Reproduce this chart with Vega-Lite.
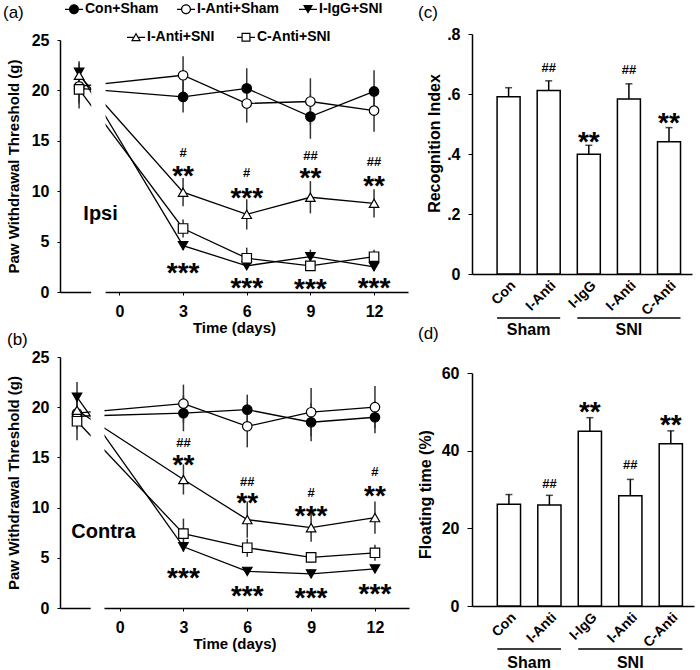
{
"$schema": "https://vega.github.io/schema/vega-lite/v6.json",
"padding": {"left": 3, "top": 2, "right": 2, "bottom": 2},
"config": {
  "font": "Liberation Sans",
  "view": {"stroke": null},
  "axis": {"grid": false, "domainColor": "black", "domainWidth": 1.5, "tickColor": "black", "tickWidth": 1, "tickSize": 3, "labelColor": "black", "labelFontWeight": "bold", "labelFontSize": 16, "titleColor": "black", "titleFontWeight": "bold", "titleFontSize": 15},
  "legend": {"title": null, "orient": "none", "symbolSize": 100, "labelFontSize": 14, "labelFontWeight": "bold", "labelColor": "black", "labelOffset": 4, "padding": 0},
  "title": {"fontSize": 17, "fontWeight": "normal", "anchor": "start", "frame": "group", "color": "black"},
  "text": {"color": "black"}
},
"datasets": {
  "pwt": [
    {"panel": "Ipsi", "series": "Con+Sham", "day": -1.9, "mean": 20.2, "sem": 1.5},
    {"panel": "Ipsi", "series": "Con+Sham", "day": 3, "mean": 19.35, "sem": 1.55},
    {"panel": "Ipsi", "series": "Con+Sham", "day": 6, "mean": 20.2, "sem": 2.0},
    {"panel": "Ipsi", "series": "Con+Sham", "day": 9, "mean": 17.4, "sem": 2.2},
    {"panel": "Ipsi", "series": "Con+Sham", "day": 12, "mean": 19.9, "sem": 2.1},
    {"panel": "Ipsi", "series": "I-Anti+Sham", "day": -1.9, "mean": 20.4, "sem": 1.5},
    {"panel": "Ipsi", "series": "I-Anti+Sham", "day": 3, "mean": 21.5, "sem": 1.9},
    {"panel": "Ipsi", "series": "I-Anti+Sham", "day": 6, "mean": 18.7, "sem": 1.9},
    {"panel": "Ipsi", "series": "I-Anti+Sham", "day": 9, "mean": 18.9, "sem": 2.3},
    {"panel": "Ipsi", "series": "I-Anti+Sham", "day": 12, "mean": 18.0, "sem": 2.1},
    {"panel": "Ipsi", "series": "I-IgG+SNI", "day": -1.9, "mean": 21.8, "sem": 1.1},
    {"panel": "Ipsi", "series": "I-IgG+SNI", "day": 3, "mean": 4.6, "sem": 0.4},
    {"panel": "Ipsi", "series": "I-IgG+SNI", "day": 6, "mean": 2.6, "sem": 0.3},
    {"panel": "Ipsi", "series": "I-IgG+SNI", "day": 9, "mean": 3.5, "sem": 0.7},
    {"panel": "Ipsi", "series": "I-IgG+SNI", "day": 12, "mean": 2.5, "sem": 0.4},
    {"panel": "Ipsi", "series": "I-Anti+SNI", "day": -1.9, "mean": 21.5, "sem": 1.2},
    {"panel": "Ipsi", "series": "I-Anti+SNI", "day": 3, "mean": 9.9, "sem": 1.4},
    {"panel": "Ipsi", "series": "I-Anti+SNI", "day": 6, "mean": 7.7, "sem": 1.5},
    {"panel": "Ipsi", "series": "I-Anti+SNI", "day": 9, "mean": 9.4, "sem": 1.6},
    {"panel": "Ipsi", "series": "I-Anti+SNI", "day": 12, "mean": 8.8, "sem": 1.4},
    {"panel": "Ipsi", "series": "C-Anti+SNI", "day": -1.9, "mean": 20.1, "sem": 1.9},
    {"panel": "Ipsi", "series": "C-Anti+SNI", "day": 3, "mean": 6.3, "sem": 0.9},
    {"panel": "Ipsi", "series": "C-Anti+SNI", "day": 6, "mean": 3.35, "sem": 1.05},
    {"panel": "Ipsi", "series": "C-Anti+SNI", "day": 9, "mean": 2.6, "sem": 0.4},
    {"panel": "Ipsi", "series": "C-Anti+SNI", "day": 12, "mean": 3.5, "sem": 0.7},
    {"panel": "Contra", "series": "Con+Sham", "day": -2, "mean": 19.1, "sem": 1.3},
    {"panel": "Contra", "series": "Con+Sham", "day": 3, "mean": 19.4, "sem": 1.8},
    {"panel": "Contra", "series": "Con+Sham", "day": 6, "mean": 19.75, "sem": 1.5},
    {"panel": "Contra", "series": "Con+Sham", "day": 9, "mean": 18.5, "sem": 1.9},
    {"panel": "Contra", "series": "Con+Sham", "day": 12, "mean": 19.0, "sem": 1.6},
    {"panel": "Contra", "series": "I-Anti+Sham", "day": -2, "mean": 19.4, "sem": 1.3},
    {"panel": "Contra", "series": "I-Anti+Sham", "day": 3, "mean": 20.35, "sem": 1.9},
    {"panel": "Contra", "series": "I-Anti+Sham", "day": 6, "mean": 18.1, "sem": 2.1},
    {"panel": "Contra", "series": "I-Anti+Sham", "day": 9, "mean": 19.5, "sem": 2.4},
    {"panel": "Contra", "series": "I-Anti+Sham", "day": 12, "mean": 20.0, "sem": 2.1},
    {"panel": "Contra", "series": "I-IgG+SNI", "day": -2, "mean": 21.0, "sem": 1.5},
    {"panel": "Contra", "series": "I-IgG+SNI", "day": 3, "mean": 6.1, "sem": 0.5},
    {"panel": "Contra", "series": "I-IgG+SNI", "day": 6, "mean": 3.65, "sem": 0.3},
    {"panel": "Contra", "series": "I-IgG+SNI", "day": 9, "mean": 3.4, "sem": 0.4},
    {"panel": "Contra", "series": "I-IgG+SNI", "day": 12, "mean": 3.9, "sem": 0.4},
    {"panel": "Contra", "series": "I-Anti+SNI", "day": -2, "mean": 19.7, "sem": 1.3},
    {"panel": "Contra", "series": "I-Anti+SNI", "day": 3, "mean": 12.8, "sem": 1.5},
    {"panel": "Contra", "series": "I-Anti+SNI", "day": 6, "mean": 8.8, "sem": 1.8},
    {"panel": "Contra", "series": "I-Anti+SNI", "day": 9, "mean": 8.0, "sem": 1.4},
    {"panel": "Contra", "series": "I-Anti+SNI", "day": 12, "mean": 9.0, "sem": 1.6},
    {"panel": "Contra", "series": "C-Anti+SNI", "day": -2, "mean": 18.6, "sem": 1.9},
    {"panel": "Contra", "series": "C-Anti+SNI", "day": 3, "mean": 7.4, "sem": 1.5},
    {"panel": "Contra", "series": "C-Anti+SNI", "day": 6, "mean": 6.0, "sem": 0.9},
    {"panel": "Contra", "series": "C-Anti+SNI", "day": 9, "mean": 5.05, "sem": 0.5},
    {"panel": "Contra", "series": "C-Anti+SNI", "day": 12, "mean": 5.5, "sem": 0.8}
  ],
  "breaks": [
    {"panel": "Ipsi", "from": -1.33, "to": -0.65},
    {"panel": "Contra", "from": -1.36, "to": -0.71}
  ],
  "ann": [
    {"panel": "Ipsi", "day": -1.7, "y": 7.7, "label": "Ipsi"},
    {"panel": "Ipsi", "day": 3, "y": 13.8, "label": "#"},
    {"panel": "Ipsi", "day": 3, "y": 12.2, "label": "**"},
    {"panel": "Ipsi", "day": 3, "y": 2.6, "label": "***"},
    {"panel": "Ipsi", "day": 6, "y": 11.8, "label": "#"},
    {"panel": "Ipsi", "day": 6, "y": 10.0, "label": "***"},
    {"panel": "Ipsi", "day": 6, "y": 1.1, "label": "***"},
    {"panel": "Ipsi", "day": 9, "y": 13.5, "label": "##"},
    {"panel": "Ipsi", "day": 9, "y": 12.0, "label": "**"},
    {"panel": "Ipsi", "day": 9, "y": 1.0, "label": "***"},
    {"panel": "Ipsi", "day": 12, "y": 12.9, "label": "##"},
    {"panel": "Ipsi", "day": 12, "y": 11.2, "label": "**"},
    {"panel": "Ipsi", "day": 12, "y": 1.1, "label": "***"},
    {"panel": "Contra", "day": -2.27, "y": 7.6, "label": "Contra"},
    {"panel": "Contra", "day": 3, "y": 16.4, "label": "##"},
    {"panel": "Contra", "day": 3, "y": 14.9, "label": "**"},
    {"panel": "Contra", "day": 3, "y": 3.65, "label": "***"},
    {"panel": "Contra", "day": 6, "y": 12.55, "label": "##"},
    {"panel": "Contra", "day": 6, "y": 11.15, "label": "**"},
    {"panel": "Contra", "day": 6, "y": 1.85, "label": "***"},
    {"panel": "Contra", "day": 9, "y": 11.45, "label": "#"},
    {"panel": "Contra", "day": 9, "y": 9.9, "label": "***"},
    {"panel": "Contra", "day": 9, "y": 1.65, "label": "***"},
    {"panel": "Contra", "day": 12, "y": 13.55, "label": "#"},
    {"panel": "Contra", "day": 12, "y": 11.9, "label": "**"},
    {"panel": "Contra", "day": 12, "y": 2.1, "label": "***"}
  ],
  "bars": [
    {"panel": "c", "cat": "Con|Sham", "value": 0.591, "upper": 0.621},
    {"panel": "c", "cat": "I-Anti|Sham", "value": 0.612, "upper": 0.644},
    {"panel": "c", "cat": "I-IgG|SNI", "value": 0.399, "upper": 0.429},
    {"panel": "c", "cat": "I-Anti|SNI", "value": 0.583, "upper": 0.634},
    {"panel": "c", "cat": "C-Anti|SNI", "value": 0.441, "upper": 0.488},
    {"panel": "d", "cat": "Con|Sham", "value": 26.2, "upper": 28.7},
    {"panel": "d", "cat": "I-Anti|Sham", "value": 26.0, "upper": 28.5},
    {"panel": "d", "cat": "I-IgG|SNI", "value": 45.0, "upper": 48.5},
    {"panel": "d", "cat": "I-Anti|SNI", "value": 28.4, "upper": 32.6},
    {"panel": "d", "cat": "C-Anti|SNI", "value": 41.8, "upper": 45.1}
  ],
  "barAnn": [
    {"panel": "c", "cat": "I-Anti|Sham", "y": 0.687, "label": "##"},
    {"panel": "c", "cat": "I-Anti|SNI", "y": 0.68, "label": "##"},
    {"panel": "c", "cat": "I-IgG|SNI", "y": 0.463, "label": "**"},
    {"panel": "c", "cat": "C-Anti|SNI", "y": 0.527, "label": "**"},
    {"panel": "d", "cat": "I-IgG|SNI", "y": 51.7, "label": "**"},
    {"panel": "d", "cat": "I-Anti|Sham", "y": 31.5, "label": "##"},
    {"panel": "d", "cat": "I-Anti|SNI", "y": 36.2, "label": "##"},
    {"panel": "d", "cat": "C-Anti|SNI", "y": 48.4, "label": "**"}
  ],
  "groups": [
    {"group": "Sham", "from": "Con|Sham", "to": "I-Anti|Sham"},
    {"group": "SNI", "from": "I-IgG|SNI", "to": "C-Anti|SNI"}
  ]
},
"resolve": {"scale": {"shape": "independent", "fill": "independent"}},
"spacing": 8,
"hconcat": [
  {
    "spacing": -4,
    "resolve": {"scale": {"shape": "independent", "fill": "independent"}},
    "vconcat": [
      {
        "width": 348, "height": 252,
        "title": {"text": "(a)", "dx": -57, "offset": -20},
        "encoding": {
          "x": {"field": "day", "type": "quantitative", "scale": {"domain": [-2.8, 13.6], "nice": false, "zero": false}, "axis": {"values": [0, 3, 6, 9, 12], "title": "Time (days)", "labelPadding": 8, "titlePadding": 1}},
          "y": {"field": "mean", "type": "quantitative", "scale": {"domain": [0, 25], "nice": false}, "axis": {"values": [0, 5, 10, 15, 20, 25], "title": "Paw Withdrawal Threshold (g)", "labelPadding": 8, "titlePadding": 10}}
        },
        "resolve": {"scale": {"shape": "independent", "fill": "independent"}},
        "layer": [
          {"data": {"name": "pwt"}, "transform": [{"filter": "datum.panel === 'Ipsi'"}], "mark": {"type": "line", "color": "black", "strokeWidth": 1.3}, "encoding": {"detail": {"field": "series"}, "order": {"field": "day", "type": "quantitative"}}},
          {"data": {"name": "breaks"}, "transform": [{"filter": "datum.panel === 'Ipsi'"}], "mark": {"type": "rect", "color": "white", "opacity": 1, "y2Offset": 4}, "encoding": {"x": {"field": "from", "type": "quantitative"}, "x2": {"field": "to"}, "y": {"value": 0}, "y2": {"value": "height"}}},
          {"data": {"name": "pwt"}, "transform": [{"filter": "datum.panel === 'Ipsi'"}], "mark": {"type": "errorbar", "ticks": false, "thickness": 1.5, "color": "#333333"}, "encoding": {"yError": {"field": "sem"}}},
          {"data": {"name": "pwt"}, "transform": [{"filter": "datum.panel === 'Ipsi'"}], "mark": {"type": "point", "filled": true, "size": 90, "stroke": "black", "strokeWidth": 1.2, "opacity": 1},
           "encoding": {
             "shape": {"field": "series", "type": "nominal", "legend": null, "scale": {"domain": ["Con+Sham", "I-Anti+Sham", "I-IgG+SNI", "I-Anti+SNI", "C-Anti+SNI"], "range": ["circle", "circle", "triangle-down", "triangle-up", "square"]}},
             "fill": {"field": "series", "type": "nominal", "legend": null, "scale": {"domain": ["Con+Sham", "I-Anti+Sham", "I-IgG+SNI", "I-Anti+SNI", "C-Anti+SNI"], "range": ["black", "white", "black", "white", "white"]}}
           }},
          {"data": {"name": "pwt"}, "transform": [{"filter": "false"}], "mark": {"type": "point", "filled": true, "color": "black", "size": 100, "opacity": 1},
           "encoding": {"shape": {"field": "series", "type": "nominal", "scale": {"domain": ["Con+Sham"], "range": ["M1,0A1,1,0,1,1,-1,0A1,1,0,1,1,1,0ZM-1.8,-0.12H-1V0.12H-1.8ZM1,-0.12H1.8V0.12H1Z"]}, "legend": {"legendX": 7, "legendY": -37.7}}}},
          {"data": {"name": "pwt"}, "transform": [{"filter": "false"}], "mark": {"type": "point", "filled": true, "color": "black", "size": 100, "opacity": 1},
           "encoding": {"shape": {"field": "series", "type": "nominal", "scale": {"domain": ["I-Anti+Sham"], "range": ["M1,0A1,1,0,1,1,-1,0A1,1,0,1,1,1,0ZM0.76,0A0.76,0.76,0,1,0,-0.76,0A0.76,0.76,0,1,0,0.76,0ZM-1.8,-0.12H-1V0.12H-1.8ZM1,-0.12H1.8V0.12H1Z"]}, "legend": {"legendX": 119, "legendY": -37.7}}}},
          {"data": {"name": "pwt"}, "transform": [{"filter": "false"}], "mark": {"type": "point", "filled": true, "color": "black", "size": 100, "opacity": 1},
           "encoding": {"shape": {"field": "series", "type": "nominal", "scale": {"domain": ["I-IgG+SNI"], "range": ["M-1,-0.85H1L0,0.9ZM-1.8,-0.12H-0.45V0.12H-1.8ZM0.45,-0.12H1.8V0.12H0.45Z"]}, "legend": {"legendX": 241, "legendY": -37.7}}}},
          {"data": {"name": "pwt"}, "transform": [{"filter": "false"}], "mark": {"type": "point", "filled": true, "color": "black", "size": 100, "opacity": 1},
           "encoding": {"shape": {"field": "series", "type": "nominal", "scale": {"domain": ["I-Anti+SNI"], "range": ["M0,-0.95L1,0.8H-1ZM0,-0.467L-0.587,0.56H0.587ZM-1.8,-0.12H-0.5V0.12H-1.8ZM0.5,-0.12H1.8V0.12H0.5Z"]}, "legend": {"legendX": 69, "legendY": -9.7}}}},
          {"data": {"name": "pwt"}, "transform": [{"filter": "false"}], "mark": {"type": "point", "filled": true, "color": "black", "size": 100, "opacity": 1},
           "encoding": {"shape": {"field": "series", "type": "nominal", "scale": {"domain": ["C-Anti+SNI"], "range": ["M-0.9,-0.9H0.9V0.9H-0.9ZM-0.66,-0.66V0.66H0.66V-0.66ZM-1.8,-0.12H-0.9V0.12H-1.8ZM0.9,-0.12H1.8V0.12H0.9Z"]}, "legend": {"legendX": 179, "legendY": -9.7}}}},
          {"data": {"name": "ann"}, "transform": [{"filter": "datum.panel === 'Ipsi' && indexof(datum.label, '#') >= 0"}], "mark": {"type": "text", "fontSize": 13, "fontWeight": "bold", "baseline": "middle"}, "encoding": {"y": {"field": "y", "type": "quantitative"}, "text": {"field": "label"}}},
          {"data": {"name": "ann"}, "transform": [{"filter": "datum.panel === 'Ipsi' && indexof(datum.label, '*') >= 0"}], "mark": {"type": "text", "fontSize": 28, "fontWeight": "bold", "baseline": "middle", "dy": 8}, "encoding": {"y": {"field": "y", "type": "quantitative"}, "text": {"field": "label"}}},
          {"data": {"name": "ann"}, "transform": [{"filter": "datum.panel === 'Ipsi' && datum.label === 'Ipsi'"}], "mark": {"type": "text", "fontSize": 20, "fontWeight": "bold", "align": "left", "baseline": "middle"}, "encoding": {"y": {"field": "y", "type": "quantitative"}, "text": {"field": "label"}}}
        ]
      },
      {
        "width": 349, "height": 251,
        "title": {"text": "(b)", "dx": -53, "offset": 0},
        "encoding": {
          "x": {"field": "day", "type": "quantitative", "scale": {"domain": [-2.8, 13.6], "nice": false, "zero": false}, "axis": {"values": [0, 3, 6, 9, 12], "title": "Time (days)", "labelPadding": 8, "titlePadding": 1}},
          "y": {"field": "mean", "type": "quantitative", "scale": {"domain": [0, 25], "nice": false}, "axis": {"values": [0, 5, 10, 15, 20, 25], "title": "Paw Withdrawal Threshold (g)", "labelPadding": 8, "titlePadding": 10}}
        },
        "layer": [
          {"data": {"name": "pwt"}, "transform": [{"filter": "datum.panel === 'Contra'"}], "mark": {"type": "line", "color": "black", "strokeWidth": 1.3}, "encoding": {"detail": {"field": "series"}, "order": {"field": "day", "type": "quantitative"}}},
          {"data": {"name": "breaks"}, "transform": [{"filter": "datum.panel === 'Contra'"}], "mark": {"type": "rect", "color": "white", "opacity": 1, "y2Offset": 4}, "encoding": {"x": {"field": "from", "type": "quantitative"}, "x2": {"field": "to"}, "y": {"value": 0}, "y2": {"value": "height"}}},
          {"data": {"name": "pwt"}, "transform": [{"filter": "datum.panel === 'Contra'"}], "mark": {"type": "errorbar", "ticks": false, "thickness": 1.5, "color": "#333333"}, "encoding": {"yError": {"field": "sem"}}},
          {"data": {"name": "pwt"}, "transform": [{"filter": "datum.panel === 'Contra'"}], "mark": {"type": "point", "filled": true, "size": 90, "stroke": "black", "strokeWidth": 1.2, "opacity": 1},
           "encoding": {
             "shape": {"field": "series", "type": "nominal", "legend": null, "scale": {"domain": ["Con+Sham", "I-Anti+Sham", "I-IgG+SNI", "I-Anti+SNI", "C-Anti+SNI"], "range": ["circle", "circle", "triangle-down", "triangle-up", "square"]}},
             "fill": {"field": "series", "type": "nominal", "legend": null, "scale": {"domain": ["Con+Sham", "I-Anti+Sham", "I-IgG+SNI", "I-Anti+SNI", "C-Anti+SNI"], "range": ["black", "white", "black", "white", "white"]}}
           }},
          {"data": {"name": "ann"}, "transform": [{"filter": "datum.panel === 'Contra' && indexof(datum.label, '#') >= 0"}], "mark": {"type": "text", "fontSize": 13, "fontWeight": "bold", "baseline": "middle"}, "encoding": {"y": {"field": "y", "type": "quantitative"}, "text": {"field": "label"}}},
          {"data": {"name": "ann"}, "transform": [{"filter": "datum.panel === 'Contra' && indexof(datum.label, '*') >= 0"}], "mark": {"type": "text", "fontSize": 28, "fontWeight": "bold", "baseline": "middle", "dy": 8}, "encoding": {"y": {"field": "y", "type": "quantitative"}, "text": {"field": "label"}}},
          {"data": {"name": "ann"}, "transform": [{"filter": "datum.panel === 'Contra' && datum.label === 'Contra'"}], "mark": {"type": "text", "fontSize": 20, "fontWeight": "bold", "align": "left", "baseline": "middle"}, "encoding": {"y": {"field": "y", "type": "quantitative"}, "text": {"field": "label"}}}
        ]
      }
    ]
  },
  {
    "spacing": -13,
    "vconcat": [
      {
        "width": 220, "height": 234,
        "title": {"text": "(c)", "dx": -54, "offset": 4},
        "encoding": {
          "x": {"field": "cat", "type": "nominal", "sort": null, "title": null, "scale": {"domain": ["Con|Sham", "I-Anti|Sham", "I-IgG|SNI", "I-Anti|SNI", "C-Anti|SNI"], "paddingInner": 0.4264, "paddingOuter": 0.456, "align": 0.686}, "axis": {"labelAngle": -45, "labelExpr": "split(datum.value, '|')[0]", "ticks": false, "labelFontSize": 14, "labelPadding": 4}}
        },
        "layer": [
          {"data": {"name": "bars"}, "transform": [{"filter": "datum.panel === 'c'"}], "mark": {"type": "rule", "color": "black", "strokeWidth": 1.5},
           "encoding": {"y": {"field": "value", "type": "quantitative", "scale": {"domain": [0, 0.8], "nice": false, "range": [234, -6]}, "axis": {"values": [0, 0.2, 0.4, 0.6, 0.8], "labelExpr": "datum.value === 0 ? '0' : replace(format(datum.value, '.1f'), '0.', '.')", "title": "Recognition Index", "titleFontSize": 16, "titleY": 103, "tickSize": 4, "labelPadding": 8, "titlePadding": 4}}, "y2": {"field": "upper"}}},
          {"data": {"name": "bars"}, "transform": [{"filter": "datum.panel === 'c'"}], "mark": {"type": "tick", "color": "black", "thickness": 1.5, "size": 7}, "encoding": {"y": {"field": "upper", "type": "quantitative"}}},
          {"data": {"name": "bars"}, "transform": [{"filter": "datum.panel === 'c'"}], "mark": {"type": "bar", "fill": "white", "stroke": "black", "strokeWidth": 1.5}, "encoding": {"y": {"field": "value", "type": "quantitative"}}},
          {"data": {"name": "barAnn"}, "transform": [{"filter": "datum.panel === 'c' && indexof(datum.label, '#') >= 0"}], "mark": {"type": "text", "fontSize": 13, "fontWeight": "bold", "baseline": "middle"}, "encoding": {"y": {"field": "y", "type": "quantitative"}, "text": {"field": "label"}}},
          {"data": {"name": "barAnn"}, "transform": [{"filter": "datum.panel === 'c' && indexof(datum.label, '*') >= 0"}], "mark": {"type": "text", "fontSize": 28, "fontWeight": "bold", "baseline": "middle", "dy": 8}, "encoding": {"y": {"field": "y", "type": "quantitative"}, "text": {"field": "label"}}},
          {"data": {"name": "groups"}, "mark": {"type": "rule", "color": "black", "strokeWidth": 1.5, "yOffset": 44}, "encoding": {"x": {"field": "from", "type": "nominal", "bandPosition": 0, "title": null}, "x2": {"field": "to", "bandPosition": 1}, "y": {"datum": 0}}},
          {"data": {"name": "groups"}, "transform": [{"filter": "datum.group === 'Sham'"}], "mark": {"type": "text", "fontSize": 16, "fontWeight": "bold", "baseline": "middle", "yOffset": 56}, "encoding": {"x": {"field": "from", "type": "nominal", "bandPosition": 1.37, "title": null}, "y": {"datum": 0}, "text": {"field": "group"}}},
          {"data": {"name": "groups"}, "transform": [{"filter": "datum.group === 'SNI'"}], "mark": {"type": "text", "fontSize": 16, "fontWeight": "bold", "baseline": "middle", "yOffset": 56}, "encoding": {"x": {"field": "from", "type": "nominal", "bandPosition": 2.24, "title": null}, "y": {"datum": 0}, "text": {"field": "group"}}}
        ]
      },
      {
        "width": 222, "height": 233,
        "title": {"text": "(d)", "dx": -54, "offset": 22},
        "encoding": {
          "x": {"field": "cat", "type": "nominal", "sort": null, "title": null, "scale": {"domain": ["Con|Sham", "I-Anti|Sham", "I-IgG|SNI", "I-Anti|SNI", "C-Anti|SNI"], "paddingInner": 0.4264, "paddingOuter": 0.456, "align": 0.686}, "axis": {"labelAngle": -45, "labelExpr": "split(datum.value, '|')[0]", "ticks": false, "labelFontSize": 14, "labelPadding": 4}}
        },
        "layer": [
          {"data": {"name": "bars"}, "transform": [{"filter": "datum.panel === 'd'"}], "mark": {"type": "rule", "color": "black", "strokeWidth": 1.5},
           "encoding": {"y": {"field": "value", "type": "quantitative", "scale": {"domain": [0, 60], "nice": false}, "axis": {"values": [0, 10, 20, 30, 40, 50, 60], "labelExpr": "datum.value % 20 === 0 ? datum.label : ''", "title": "Floating time (%)", "titleFontSize": 16, "titleY": 121, "tickSize": 5, "labelPadding": 8, "titlePadding": 8}}, "y2": {"field": "upper"}}},
          {"data": {"name": "bars"}, "transform": [{"filter": "datum.panel === 'd'"}], "mark": {"type": "tick", "color": "black", "thickness": 1.5, "size": 7}, "encoding": {"y": {"field": "upper", "type": "quantitative"}}},
          {"data": {"name": "bars"}, "transform": [{"filter": "datum.panel === 'd'"}], "mark": {"type": "bar", "fill": "white", "stroke": "black", "strokeWidth": 1.5}, "encoding": {"y": {"field": "value", "type": "quantitative"}}},
          {"data": {"name": "barAnn"}, "transform": [{"filter": "datum.panel === 'd' && indexof(datum.label, '#') >= 0"}], "mark": {"type": "text", "fontSize": 13, "fontWeight": "bold", "baseline": "middle"}, "encoding": {"y": {"field": "y", "type": "quantitative"}, "text": {"field": "label"}}},
          {"data": {"name": "barAnn"}, "transform": [{"filter": "datum.panel === 'd' && indexof(datum.label, '*') >= 0"}], "mark": {"type": "text", "fontSize": 28, "fontWeight": "bold", "baseline": "middle", "dy": 8}, "encoding": {"y": {"field": "y", "type": "quantitative"}, "text": {"field": "label"}}},
          {"data": {"name": "groups"}, "mark": {"type": "rule", "color": "black", "strokeWidth": 1.5, "yOffset": 43}, "encoding": {"x": {"field": "from", "type": "nominal", "bandPosition": 0, "title": null}, "x2": {"field": "to", "bandPosition": 1}, "y": {"datum": 0}}},
          {"data": {"name": "groups"}, "transform": [{"filter": "datum.group === 'Sham'"}], "mark": {"type": "text", "fontSize": 16, "fontWeight": "bold", "baseline": "middle", "yOffset": 57}, "encoding": {"x": {"field": "from", "type": "nominal", "bandPosition": 1.37, "title": null}, "y": {"datum": 0}, "text": {"field": "group"}}},
          {"data": {"name": "groups"}, "transform": [{"filter": "datum.group === 'SNI'"}], "mark": {"type": "text", "fontSize": 16, "fontWeight": "bold", "baseline": "middle", "yOffset": 57}, "encoding": {"x": {"field": "from", "type": "nominal", "bandPosition": 2.24, "title": null}, "y": {"datum": 0}, "text": {"field": "group"}}}
        ]
      }
    ]
  }
]
}
